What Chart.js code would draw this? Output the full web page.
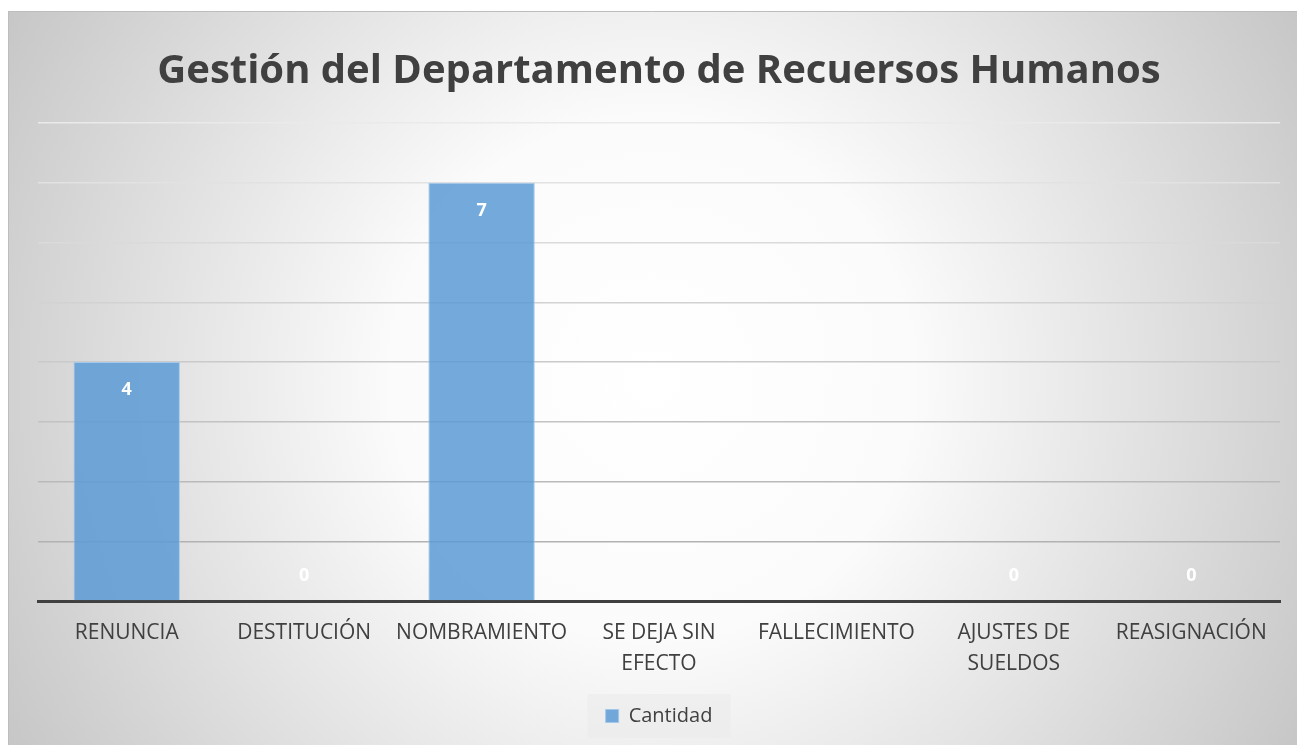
<!DOCTYPE html>
<html>
<head>
<meta charset="utf-8">
<script src="https://cdn.jsdelivr.net/npm/chart.js@4/dist/chart.umd.min.js"></script>
<style>
  html, body { margin: 0; padding: 0; background: #fff; }
  #wrap { position: absolute; left: 8px; top: 11px; width: 1289px; height: 734px; }
</style>
</head>
<body>
<div id="wrap"><canvas id="myChart"></canvas></div>
<script>
var categories = ["RENUNCIA", "DESTITUCIÓN", "NOMBRAMIENTO", ["SE DEJA SIN", "EFECTO"], "FALLECIMIENTO", ["AJUSTES DE", "SUELDOS"], "REASIGNACIÓN"];
var cantidad = [4, 0, 7, null, null, 0, 0];
var yTicks = [0, 1, 2, 3, 4, 5, 6, 7, 8];

var FONT = "'Open Sans', 'Noto Sans', sans-serif";

// fondo con degradado radial y borde
var backgroundPlugin = {
    id: 'fondo',
    beforeDraw: function(chart) {
        var c = chart.ctx;
        var w = chart.width, h = chart.height;
        c.save();
        var g = c.createRadialGradient(w * 0.5, h * 0.5, 0, w * 0.5, h * 0.5, w * 0.58);
        g.addColorStop(0, '#ffffff');
        g.addColorStop(0.35, '#fbfbfb');
        g.addColorStop(1, '#c6c6c6');
        c.fillStyle = g;
        c.fillRect(0, 0, w, h);
        c.strokeStyle = '#bdbdbd';
        c.lineWidth = 1;
        c.beginPath();
        c.moveTo(0.5, h);
        c.lineTo(0.5, 0.5);
        c.lineTo(w, 0.5);
        c.stroke();

        // caja suave detras de la leyenda
        var lg = chart.legend;
        if (lg && lg.legendHitBoxes && lg.legendHitBoxes.length) {
            var hb = lg.legendHitBoxes[0];
            c.fillStyle = 'rgba(235, 235, 235, 0.6)';
            c.fillRect(hb.left - 18, hb.top - 12, hb.width + 36, hb.height + 24);
        }
        c.restore();
    }
};

// etiquetas de valor en blanco
var labelsPlugin = {
    id: 'etiquetas',
    afterDatasetsDraw: function(chart) {
        var c = chart.ctx;
        var meta = chart.getDatasetMeta(0);
        var yScale = chart.scales.y;
        c.save();
        c.fillStyle = '#ffffff';
        c.font = 'bold 18px ' + FONT;
        c.textAlign = 'center';
        c.textBaseline = 'middle';
        meta.data.forEach(function(bar, i) {
            var v = cantidad[i];
            if (v === null) return;
            var y;
            if (v === 0) {
                y = yScale.getPixelForValue(0) - 25;
            } else {
                y = bar.y + 28;
            }
            c.fillText(String(v), bar.x, y);
        });
        c.restore();
    }
};

var ctx = document.getElementById("myChart").getContext('2d');

var myChart = new Chart(ctx, {
    type: 'bar',
    data: {
        labels: categories,
        datasets: [{
            label: 'Cantidad',
            data: cantidad,
            backgroundColor: 'rgba(91, 155, 213, 0.85)',
            borderColor: 'rgba(160, 200, 235, 0.9)',
            borderWidth: 1,
            categoryPercentage: 1,
            barPercentage: 0.6
        }]
    },
    options: {
        responsive: true,
        maintainAspectRatio: false,
        animation: false,
        layout: {
            padding: { left: 30, right: 17, top: 0, bottom: 9 }
        },
        plugins: {
            title: {
                display: true,
                text: 'Gestión del Departamento de Recuersos Humanos',
                color: '#404040',
                font: { family: FONT, size: 40, weight: 'bold' },
                padding: { top: 37, bottom: 27 }
            },
            legend: {
                position: 'bottom',
                labels: {
                    color: '#404040',
                    font: { family: FONT, size: 20 },
                    boxWidth: 13,
                    boxHeight: 13,
                    padding: 21
                }
            },
            tooltip: { enabled: false }
        },
        scales: {
            x: {
                grid: { display: false },
                border: { display: true, color: '#404040', width: 3 },
                ticks: {
                    color: '#404040',
                    font: { family: FONT, size: 21, lineHeight: 1.45 },
                    maxRotation: 0,
                    autoSkip: false,
                    padding: 9
                },
                afterFit: function(scale) {
                    scale.height = 84;
                }
            },
            y: {
                min: 0,
                max: 8,
                afterBuildTicks: function(axis) {
                    axis.ticks = yTicks.map(function(v) { return { value: v }; });
                },
                ticks: { display: false },
                border: { display: false },
                grid: {
                    drawTicks: false,
                    lineWidth: 1.5,
                    color: function(c) {
                        var v = c.tick ? c.tick.value : 0;
                        var k = Math.round(170 + v * 8);
                        return 'rgb(' + k + ',' + k + ',' + k + ')';
                    }
                }
            }
        }
    },
    plugins: [backgroundPlugin, labelsPlugin]
});
</script>
</body>
</html>
